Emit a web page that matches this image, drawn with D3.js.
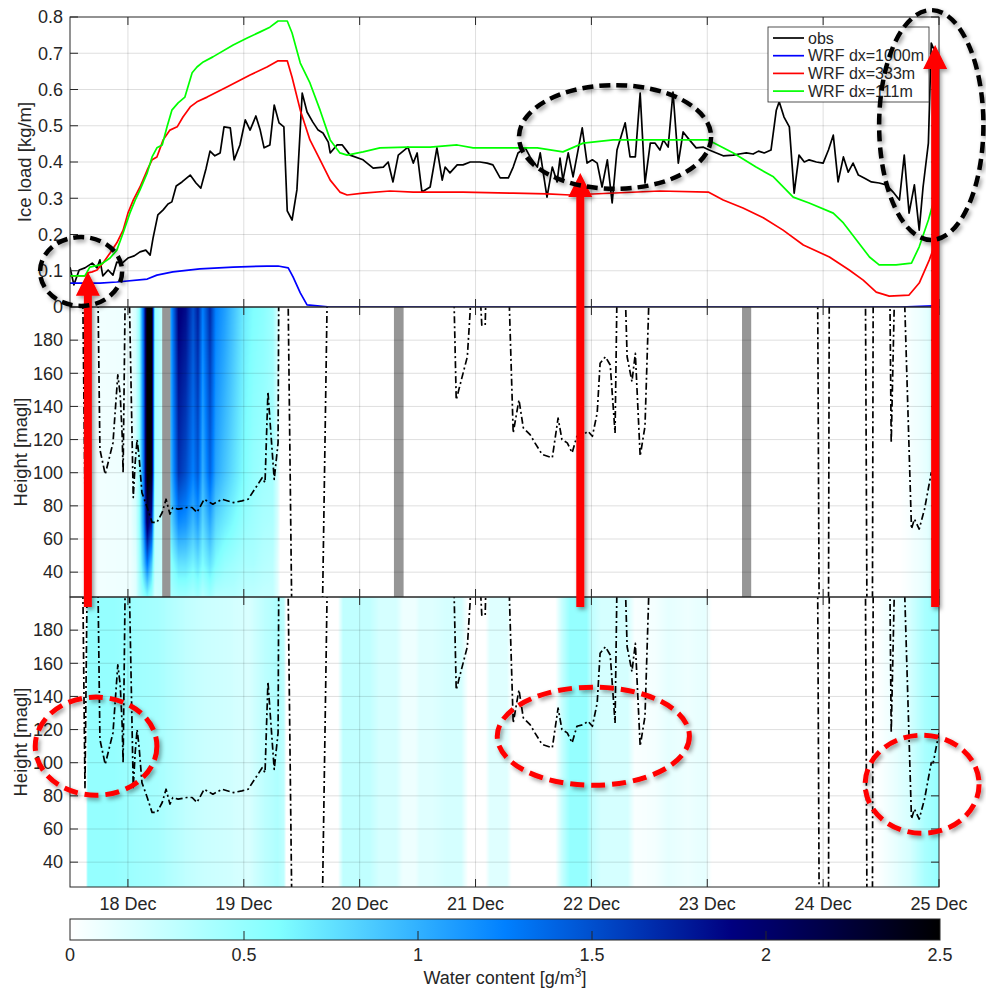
<!DOCTYPE html>
<html><head><meta charset="utf-8">
<script src="https://cdn.jsdelivr.net/npm/d3@7/dist/d3.min.js"></script>
<style>
html,body{margin:0;padding:0;background:#fff;}
svg text{font-family:"Liberation Sans",Arial,Helvetica,sans-serif;fill:#262626;}
</style></head><body>
<svg id="chart" width="986" height="989" xmlns="http://www.w3.org/2000/svg"></svg>
<script>
// ================= DATA =================
const startTime = "2016-12-17T12:00:00Z";   // hours below are counted from this time
const endTime   = "2016-12-25T00:00:00Z";

// observed ice load [kg/m]
const obsHours = [0,0.8,1.9,3.1,4.6,5.6,6.2,6.8,7.9,8.9,9.7,10.8,12.0,13.3,14.5,15.7,16.6,17.2,18.2,19.3,20.3,21.1,22.0,23.2,24.9,26.1,27.1,28.2,29.0,30.0,31.1,31.9,33.2,34.0,35.2,36.3,37.3,38.5,39.4,40.2,41.4,42.3,43.3,44.3,45.0,46.0,47.0,48.1,49.1,50.3,51.4,52.4,53.5,53.9,55.3,56.4,58.0,60.7,62.8,64.9,65.9,66.9,68.0,70.0,71.1,71.9,72.9,74.6,76.0,77.1,77.7,78.7,80.2,81.4,82.9,84.9,86.4,87.6,89.1,90.8,91.8,92.8,94.3,95.3,96.8,97.4,98.8,99.9,100.9,101.5,102.1,103.2,104.2,106.1,107.1,108.2,109.2,110.2,111.3,112.3,113.3,115.0,116.0,117.1,118.1,119.1,120.2,121.2,122.2,122.9,123.9,124.9,126.0,127.0,128.3,129.7,131.2,132.4,133.9,135.3,137.4,138.6,140.1,141.5,142.6,143.8,145.2,146.3,146.9,147.9,149.0,150.0,151.0,152.1,153.1,154.6,156.0,157.1,158.1,159.1,160.2,161.2,162.2,163.3,164.5,166.0,167.6,169.1,170.5,171.8,172.8,173.8,174.9,175.9,176.7,177.8,178.4,179.0];
const obsLoad = [0.110,0.061,0.102,0.108,0.121,0.108,0.130,0.086,0.102,0.088,0.124,0.121,0.135,0.141,0.152,0.157,0.143,0.190,0.254,0.268,0.284,0.290,0.334,0.345,0.364,0.342,0.328,0.383,0.430,0.417,0.425,0.497,0.494,0.406,0.447,0.516,0.488,0.527,0.488,0.439,0.447,0.557,0.508,0.497,0.265,0.240,0.323,0.590,0.538,0.510,0.488,0.480,0.455,0.425,0.447,0.447,0.419,0.406,0.383,0.386,0.400,0.345,0.419,0.441,0.397,0.425,0.317,0.331,0.439,0.350,0.386,0.370,0.392,0.392,0.400,0.400,0.397,0.392,0.356,0.356,0.386,0.425,0.439,0.414,0.386,0.425,0.303,0.386,0.345,0.411,0.350,0.425,0.359,0.494,0.397,0.406,0.397,0.331,0.406,0.287,0.433,0.508,0.414,0.414,0.590,0.342,0.452,0.452,0.433,0.461,0.441,0.593,0.397,0.483,0.461,0.439,0.441,0.433,0.425,0.417,0.419,0.422,0.425,0.422,0.430,0.425,0.433,0.543,0.566,0.524,0.497,0.314,0.419,0.400,0.406,0.400,0.397,0.433,0.474,0.345,0.414,0.372,0.397,0.364,0.356,0.345,0.342,0.337,0.317,0.295,0.419,0.259,0.337,0.212,0.331,0.452,0.728,0.709];

// WRF dx=1000m
const blueHours = [0,6.2,9.7,16.0,18.0,21.3,26.9,33.8,40.8,43.1,45.2,46.2,47.7,49.1,53.9,172,180];
const blueLoad  = [0.066,0.066,0.069,0.077,0.088,0.097,0.105,0.110,0.113,0.113,0.108,0.083,0.039,0.006,0,0,0.004];
// WRF dx=333m
const redHours = [0,3.1,3.7,4.6,5.6,6.8,8.3,9.7,11.0,12.0,13.1,14.5,16.0,17.0,18.0,19.3,20.7,22.2,23.4,24.9,26.3,28.4,32.5,37.3,40.8,43.1,45.0,46.0,47.7,49.7,51.8,53.9,55.9,57.4,60.7,66.3,71.1,81.4,91.8,98.8,103.6,122.2,132.2,135.3,139.4,143.6,147.7,151.9,157.3,161.4,164.3,167.0,169.7,173.8,175.9,178.0,179.0,180];
const redLoad  = [0.086,0.086,0.094,0.097,0.102,0.121,0.149,0.177,0.212,0.259,0.295,0.331,0.378,0.406,0.414,0.461,0.488,0.497,0.524,0.552,0.566,0.579,0.607,0.640,0.662,0.679,0.679,0.634,0.543,0.461,0.406,0.350,0.317,0.309,0.314,0.320,0.317,0.317,0.314,0.312,0.309,0.320,0.317,0.295,0.273,0.246,0.212,0.171,0.138,0.102,0.074,0.041,0.030,0.033,0.066,0.130,0.166,0.190];
// WRF dx=111m
const greenHours = [0,3.1,4.1,6.2,8.3,9.7,11.0,12.4,13.5,14.5,16.0,17.0,18.0,19.1,20.1,21.1,22.4,23.8,25.3,26.3,27.6,29.6,33.8,36.7,39.4,41.4,43.1,45.0,46.0,47.7,49.7,51.8,53.9,55.9,57.4,60.7,64.2,69.8,74.6,80.2,83.5,88.5,93.9,96.8,102.1,106.3,112.5,122.2,132.2,137.4,142.1,145.7,149.8,153.1,158.1,160.2,162.9,165.6,167.6,171.1,174.3,175.9,177.8,178.8,180];
const greenLoad  = [0.086,0.086,0.110,0.116,0.135,0.157,0.204,0.259,0.295,0.323,0.370,0.414,0.439,0.447,0.497,0.543,0.563,0.579,0.646,0.662,0.676,0.690,0.723,0.742,0.759,0.772,0.789,0.789,0.756,0.673,0.618,0.543,0.461,0.425,0.419,0.428,0.439,0.441,0.441,0.447,0.439,0.439,0.439,0.439,0.428,0.452,0.461,0.461,0.461,0.425,0.386,0.359,0.303,0.287,0.259,0.232,0.185,0.138,0.116,0.116,0.121,0.166,0.240,0.287,0.323];

// observed cloud base height [m] (250 = above, 0 = below the plotted range)
const cbhHours = [0,2.5,3.1,3.7,5.6,6.2,7.3,8.9,9.9,10.4,10.8,11.0,11.6,12.0,13.1,13.5,13.9,14.3,14.9,16.0,17.0,18.0,19.1,19.9,20.7,21.3,22.4,24.2,25.3,26.3,27.8,29.6,31.5,33.8,35.6,36.9,38.7,39.8,40.4,41.0,41.9,42.3,43.1,43.3,45.0,46.0,52.2,53.5,79.2,80.0,82.3,82.9,83.3,84.2,85.3,86.0,86.5,90.5,91.8,93.0,93.9,95.3,96.3,97.8,99.9,101.1,101.9,103.0,104.0,105.0,106.3,107.3,108.2,109.2,109.8,110.9,111.9,112.9,113.5,114.6,115.4,116.4,117.1,118.1,119.1,120.4,154.8,155.2,157.1,157.3,164.7,165.1,166.2,166.4,169.7,170.1,171.1,172.4,174.3,174.9,175.9,177.0,178.4,178.8,180];
const cbhHeight = [250,250,85,250,250,114,99,118,159,147,123,100,250,250,85,106,120,110,88,79,70,70,76,84,75,79,78,79,79,76,84,81,84,82,83,84,92,97,94,149,112,96,118,250,250,0,0,250,250,144,170,198,250,250,189,189,250,250,124,144,127,123,118,111,109,133,120,118,112,122,123,125,122,136,166,170,165,124,250,250,170,155,172,110,128,250,250,0,0,250,250,0,0,250,250,118,250,250,66,72,66,78,100,100,118];

// missing model data periods (hours)
const missingStart = [19.1, 67.1, 139.2];
const missingEnd   = [20.8, 69.1, 141.1];

// modelled water content, middle panel [g/m3] : rows = times, columns = heights
const wcMidLevels = [25, 45, 70, 100, 200];
const wcMidHours  = [0,3.5,4.5,12.5,13.6,14.3,15.3,16.0,16.9,17.6,19.0,21.0,22.5,24.0,25.5,26.5,27.5,29.0,30.2,32.0,34.0,36.0,38.0,40.0,42.0,43.0,43.6,172,176,180];
const wcMidValues = [
 [0,0,0,0,0],[0,0,0,0,0],[0.06,0.06,0.06,0.06,0.06],[0.08,0.08,0.08,0.08,0.08],[0.15,0.15,0.2,0.2,0.2],
 [0.35,0.4,0.45,0.45,0.45],[0.5,0.9,1.2,1.35,1.45],[0.6,1.3,2.1,2.6,2.6],[0.45,0.9,1.7,2.4,2.6],[0.2,0.3,0.3,0.4,0.5],
 [0.25,0.25,0.3,0.3,0.3],[0.4,0.55,0.8,1.0,1.15],[0.45,0.75,1.2,1.65,1.95],[0.45,0.75,1.15,1.5,1.85],[0.4,0.65,0.95,1.25,1.5],
 [0.45,0.75,1.1,1.45,1.75],[0.35,0.6,0.8,1.0,1.25],[0.45,0.75,1.05,1.4,1.7],[0.35,0.6,0.8,1.05,1.25],[0.35,0.5,0.7,0.9,1.1],
 [0.35,0.45,0.6,0.75,0.9],[0.3,0.4,0.5,0.6,0.7],[0.3,0.4,0.45,0.5,0.6],[0.28,0.35,0.4,0.45,0.55],[0.28,0.32,0.38,0.42,0.45],
 [0.15,0.15,0.2,0.2,0.2],[0,0,0,0,0],[0,0,0,0,0],[0.08,0.08,0.08,0.08,0.08],[0.2,0.2,0.2,0.2,0.2]
];
// modelled water content, bottom panel [g/m3] (column values)
const wcBotHours  = [0,3.3,3.7,9,14,18,20,24,28,33,37,40,43,44.3,44.8,55.5,56.6,62,64,67.5,69,71.5,72.5,75,78,81,82.5,86,87,90.5,91.5,100.5,101.8,103.6,107,108,110,115.5,117,121,124,128,131.5,133,167,170,174,177,180];
const wcBotValues = [0,0,0.5,0.5,0.45,0.42,0.38,0.3,0.25,0.22,0.18,0.3,0.38,0.3,0,0,0.3,0.3,0.2,0.2,0.08,0.08,0.15,0.15,0.2,0.2,0,0,0.15,0.15,0,0,0.25,0.5,0.5,0.3,0.2,0.2,0.03,0.05,0.12,0.08,0.12,0,0,0.08,0.2,0.4,0.5];

// axes
const iceTicks = [0,0.1,0.2,0.3,0.4,0.5,0.6,0.7,0.8];
const heightTicks = [40,60,80,100,120,140,160,180];
const cbTicks = [0,0.5,1,1.5,2,2.5];
const colorStops = [0,0.6,1.25,1.9,2.5];
const colorValues = ['#ffffff','#80ffff','#0080ff','#000080','#000000'];
const legendLabels = ['obs','WRF dx=1000m','WRF dx=333m','WRF dx=111m'];

// annotations (in data units)
const iceEllipses = [{hour:2.3,load:0.098,dh:8.5,dl:0.095},{hour:112.9,load:0.469,dh:19.9,dl:0.143},{hour:178.4,load:0.502,dh:10.8,dl:0.317}];
const arrows = [{hour:3.7,tipLoad:0.097,baseHeight:194},{hour:105.7,tipLoad:0.37,baseHeight:194},{hour:179.2,tipLoad:0.723,baseHeight:194}];
const heightEllipses = [{hour:5.4,height:110,dh:12.6,dm:29.6},{hour:108.4,height:116,dh:19.9,dm:29.6},{hour:176.5,height:87,dh:11.8,dm:29.6}];

// ================= CHART =================
const L = 70, R = 939;
const T0 = new Date(startTime), T1 = new Date(endTime);
const x = d3.scaleUtc().domain([T0, T1]).range([L, R]);
const xh = h => x(new Date(+T0 + h * 3.6e6));
const yIce = d3.scaleLinear().domain([0, 0.8]).range([307, 17]);
const yMid = d3.scaleLinear().domain([25, 200]).range([597, 307]);
const yBot = d3.scaleLinear().domain([25, 200]).range([887, 597]);
const wcColor = d3.scaleLinear().domain(colorStops).range(colorValues).clamp(true);
const dayTicks = x.ticks(d3.utcDay.every(1));
const AX = '#262626', GRID = '#dedede';

const svg = d3.select('#chart');
const defs = svg.append('defs');
const f = defs.append('filter').attr('id','shadow').attr('x','-30%').attr('y','-30%').attr('width','160%').attr('height','160%');
f.append('feDropShadow').attr('dx',2).attr('dy',2.5).attr('stdDeviation',2).attr('flood-color','#000').attr('flood-opacity',0.4);

function clipFor(id, ys) {
  const [b, t] = ys.range();
  defs.append('clipPath').attr('id', id).append('rect').attr('x', L).attr('y', t).attr('width', R - L).attr('height', b - t);
}
clipFor('cIce', yIce); clipFor('cMid', yMid); clipFor('cBot', yBot);

function interp1(xs, ys, v) {
  const i = d3.bisectRight(xs, v);
  if (i <= 0) return ys[0];
  if (i >= xs.length) return ys[ys.length - 1];
  const t = (v - xs[i - 1]) / (xs[i] - xs[i - 1]);
  return ys[i - 1] + (ys[i] - ys[i - 1]) * t;
}
// colour lookup
const LUT = d3.range(0, 501).map(k => d3.rgb(wcColor(k / 200)));

function heatImage(ys, columnFn) {
  const [b, t] = ys.range();
  const w = R - L, hgt = b - t;
  const cv = document.createElement('canvas'); cv.width = w; cv.height = hgt;
  const ctx = cv.getContext('2d'); const im = ctx.createImageData(w, hgt);
  for (let i = 0; i < w; i++) {
    const hr = (x.invert(L + i + 0.5) - T0) / 3.6e6;
    const valAt = columnFn(hr);
    for (let j = 0; j < hgt; j++) {
      const z = ys.invert(t + j + 0.5);
      const v = Math.max(0, Math.min(2.5, valAt(z)));
      const c = LUT[Math.round(v * 200)];
      const p = (j * w + i) * 4;
      im.data[p] = c.r; im.data[p + 1] = c.g; im.data[p + 2] = c.b; im.data[p + 3] = 255;
    }
  }
  ctx.putImageData(im, 0, 0);
  svg.append('image').attr('x', L).attr('y', t).attr('width', w).attr('height', hgt)
    .attr('preserveAspectRatio', 'none').attr('href', cv.toDataURL());
}
heatImage(yMid, hr => {
  const prof = wcMidLevels.map((_, k) => interp1(wcMidHours, wcMidValues.map(r => r[k]), hr));
  return z => interp1(wcMidLevels, prof, z);
});
heatImage(yBot, hr => { const v = interp1(wcBotHours, wcBotValues, hr); return () => v; });

// missing-data bars
svg.append('g').selectAll('rect').data(d3.zip(missingStart, missingEnd)).join('rect')
  .attr('x', d => xh(d[0])).attr('width', d => xh(d[1]) - xh(d[0]))
  .attr('y', yMid.range()[1]).attr('height', yMid.range()[0] - yMid.range()[1]).attr('fill', '#969696');

// grids
function grid(ys, ticks) {
  const [b, t] = ys.range();
  const g = svg.append('g').attr('stroke', '#000').attr('stroke-opacity', 0.13).attr('stroke-width', 1);
  g.selectAll('.v').data(dayTicks.filter(d => x(d) > L + 1 && x(d) < R - 1)).join('line')
    .attr('x1', d => x(d)).attr('x2', d => x(d)).attr('y1', t).attr('y2', b);
  g.selectAll('.h').data(ticks.filter(v => ys(v) > t + 1 && ys(v) < b - 1)).join('line')
    .attr('x1', L).attr('x2', R).attr('y1', v => ys(v)).attr('y2', v => ys(v));
}
grid(yIce, iceTicks); grid(yMid, heightTicks); grid(yBot, heightTicks);

// ice-load lines
const series = [
  {h: obsHours, v: obsLoad, c: '#000000'},
  {h: blueHours, v: blueLoad, c: '#0000ff'},
  {h: redHours, v: redLoad, c: '#ff0000'},
  {h: greenHours, v: greenLoad, c: '#00ff00'}
];
const iceLine = d3.line().x(d => xh(d[0])).y(d => yIce(d[1]));
svg.append('g').attr('clip-path', 'url(#cIce)').selectAll('path').data(series).join('path')
  .attr('d', s => iceLine(d3.zip(s.h, s.v))).attr('fill', 'none').attr('stroke', s => s.c).attr('stroke-width', 1.7)
  .attr('stroke-linejoin', 'round');

// cloud base lines (dash-dot) in both height panels
const cbh = d3.zip(cbhHours, cbhHeight);
[['cMid', yMid], ['cBot', yBot]].forEach(([cid, ys]) => {
  svg.append('path').attr('clip-path', `url(#${cid})`)
    .attr('d', d3.line().x(d => xh(d[0])).y(d => ys(d[1]))(cbh))
    .attr('fill', 'none').attr('stroke', '#000').attr('stroke-width', 1.7)
    .attr('stroke-dasharray', '7,3,2,3').attr('stroke-linejoin', 'round');
});

// axes boxes and ticks
function frame(ys, ticks, fmt, xLabels) {
  const [b, t] = ys.range();
  const g = svg.append('g');
  g.append('rect').attr('x', L).attr('y', t).attr('width', R - L).attr('height', b - t)
    .attr('fill', 'none').attr('stroke', AX).attr('stroke-width', 1);
  const tk = g.append('g').attr('stroke', AX).attr('stroke-width', 1);
  ticks.forEach(v => {
    tk.append('line').attr('x1', L).attr('x2', L + 8).attr('y1', ys(v)).attr('y2', ys(v));
    tk.append('line').attr('x1', R).attr('x2', R - 8).attr('y1', ys(v)).attr('y2', ys(v));
  });
  dayTicks.forEach(d => {
    tk.append('line').attr('x1', x(d)).attr('x2', x(d)).attr('y1', t).attr('y2', t + 8);
    tk.append('line').attr('x1', x(d)).attr('x2', x(d)).attr('y1', b).attr('y2', b - 8);
  });
  g.selectAll('.yl').data(ticks).join('text').attr('x', L - 7).attr('y', v => ys(v)).attr('dy', '0.35em')
    .attr('text-anchor', 'end').attr('font-size', 18).text(fmt);
  if (xLabels) {
    g.selectAll('.xl').data(dayTicks).join('text').attr('x', d => x(d)).attr('y', b + 23)
      .attr('text-anchor', 'middle').attr('font-size', 18).text(d3.utcFormat('%-d %b'));
  }
}
frame(yIce, iceTicks, v => String(+v.toFixed(1)), false);
frame(yMid, heightTicks, v => v, false);
frame(yBot, heightTicks, v => v, true);

// axis titles
function ytitle(txt, ys, xb) {
  const [b, t] = ys.range();
  svg.append('text').attr('transform', `translate(${xb},${(b + t) / 2}) rotate(-90)`)
    .attr('text-anchor', 'middle').attr('font-size', 18.5).text(txt);
}
ytitle('Ice load [kg/m]', yIce, 31);
ytitle('Height [magl]', yMid, 27);
ytitle('Height [magl]', yBot, 27);

// legend
const lg = svg.append('g');
lg.append('rect').attr('x', 768).attr('y', 27).attr('width', 161).attr('height', 75)
  .attr('fill', '#fff').attr('stroke', AX).attr('stroke-width', 0.8);
legendLabels.forEach((lab, i) => {
  const yy = 38 + i * 17.7;
  lg.append('line').attr('x1', 773).attr('x2', 804).attr('y1', yy).attr('y2', yy)
    .attr('stroke', series[i].c).attr('stroke-width', 1.7);
  lg.append('text').attr('x', 808).attr('y', yy).attr('dy', '0.35em').attr('font-size', 16).text(lab);
});

// colorbar
const cb = d3.scaleLinear().domain([0, 2.5]).range([L, R + 1]);
const grad = defs.append('linearGradient').attr('id', 'cbgrad').attr('x1', '0%').attr('x2', '100%');
d3.range(0, 51).forEach(k => grad.append('stop').attr('offset', (k * 2) + '%').attr('stop-color', wcColor(k * 0.05)));
svg.append('rect').attr('x', cb(0)).attr('y', 919).attr('width', cb(2.5) - cb(0)).attr('height', 21)
  .attr('fill', 'url(#cbgrad)').attr('stroke', AX).attr('stroke-width', 1);
svg.append('g').attr('stroke', AX).selectAll('line').data(cbTicks.slice(1, -1)).join('line')
  .attr('x1', d => cb(d)).attr('x2', d => cb(d)).attr('y1', 940).attr('y2', 931);
svg.append('g').selectAll('text').data(cbTicks).join('text').attr('x', d => cb(d)).attr('y', 961)
  .attr('text-anchor', 'middle').attr('font-size', 18).text(d => d);
const ct = svg.append('text').attr('x', (cb(0) + cb(2.5)) / 2).attr('y', 984).attr('text-anchor', 'middle').attr('font-size', 18);
ct.append('tspan').text('Water content [g/m');
ct.append('tspan').attr('font-size', 12).attr('dy', -7).text('3');
ct.append('tspan').attr('dy', 7).text(']');

// annotations
const an = svg.append('g').attr('filter', 'url(#shadow)');
arrows.forEach(a => {
  const cx = xh(a.hour), tip = yIce(a.tipLoad), base = yBot(a.baseHeight);
  const hw = 12, sw = 4, hl = 24;
  an.append('path').attr('d', `M${cx - sw},${base} L${cx - sw},${tip + hl} L${cx - hw},${tip + hl} L${cx},${tip} L${cx + hw},${tip + hl} L${cx + sw},${tip + hl} L${cx + sw},${base} Z`)
    .attr('fill', '#ff0000');
});
iceEllipses.forEach(e => {
  an.append('ellipse').attr('cx', xh(e.hour)).attr('cy', yIce(e.load))
    .attr('rx', xh(e.hour + e.dh) - xh(e.hour)).attr('ry', yIce(e.load - e.dl) - yIce(e.load))
    .attr('fill', 'none').attr('stroke', '#000').attr('stroke-width', 4.5).attr('stroke-dasharray', '11,6');
});
heightEllipses.forEach(e => {
  an.append('ellipse').attr('cx', xh(e.hour)).attr('cy', yBot(e.height))
    .attr('rx', xh(e.hour + e.dh) - xh(e.hour)).attr('ry', yBot(e.height - e.dm) - yBot(e.height))
    .attr('fill', 'none').attr('stroke', '#ff0000').attr('stroke-width', 5).attr('stroke-dasharray', '14,7');
});
</script>
</body></html>
